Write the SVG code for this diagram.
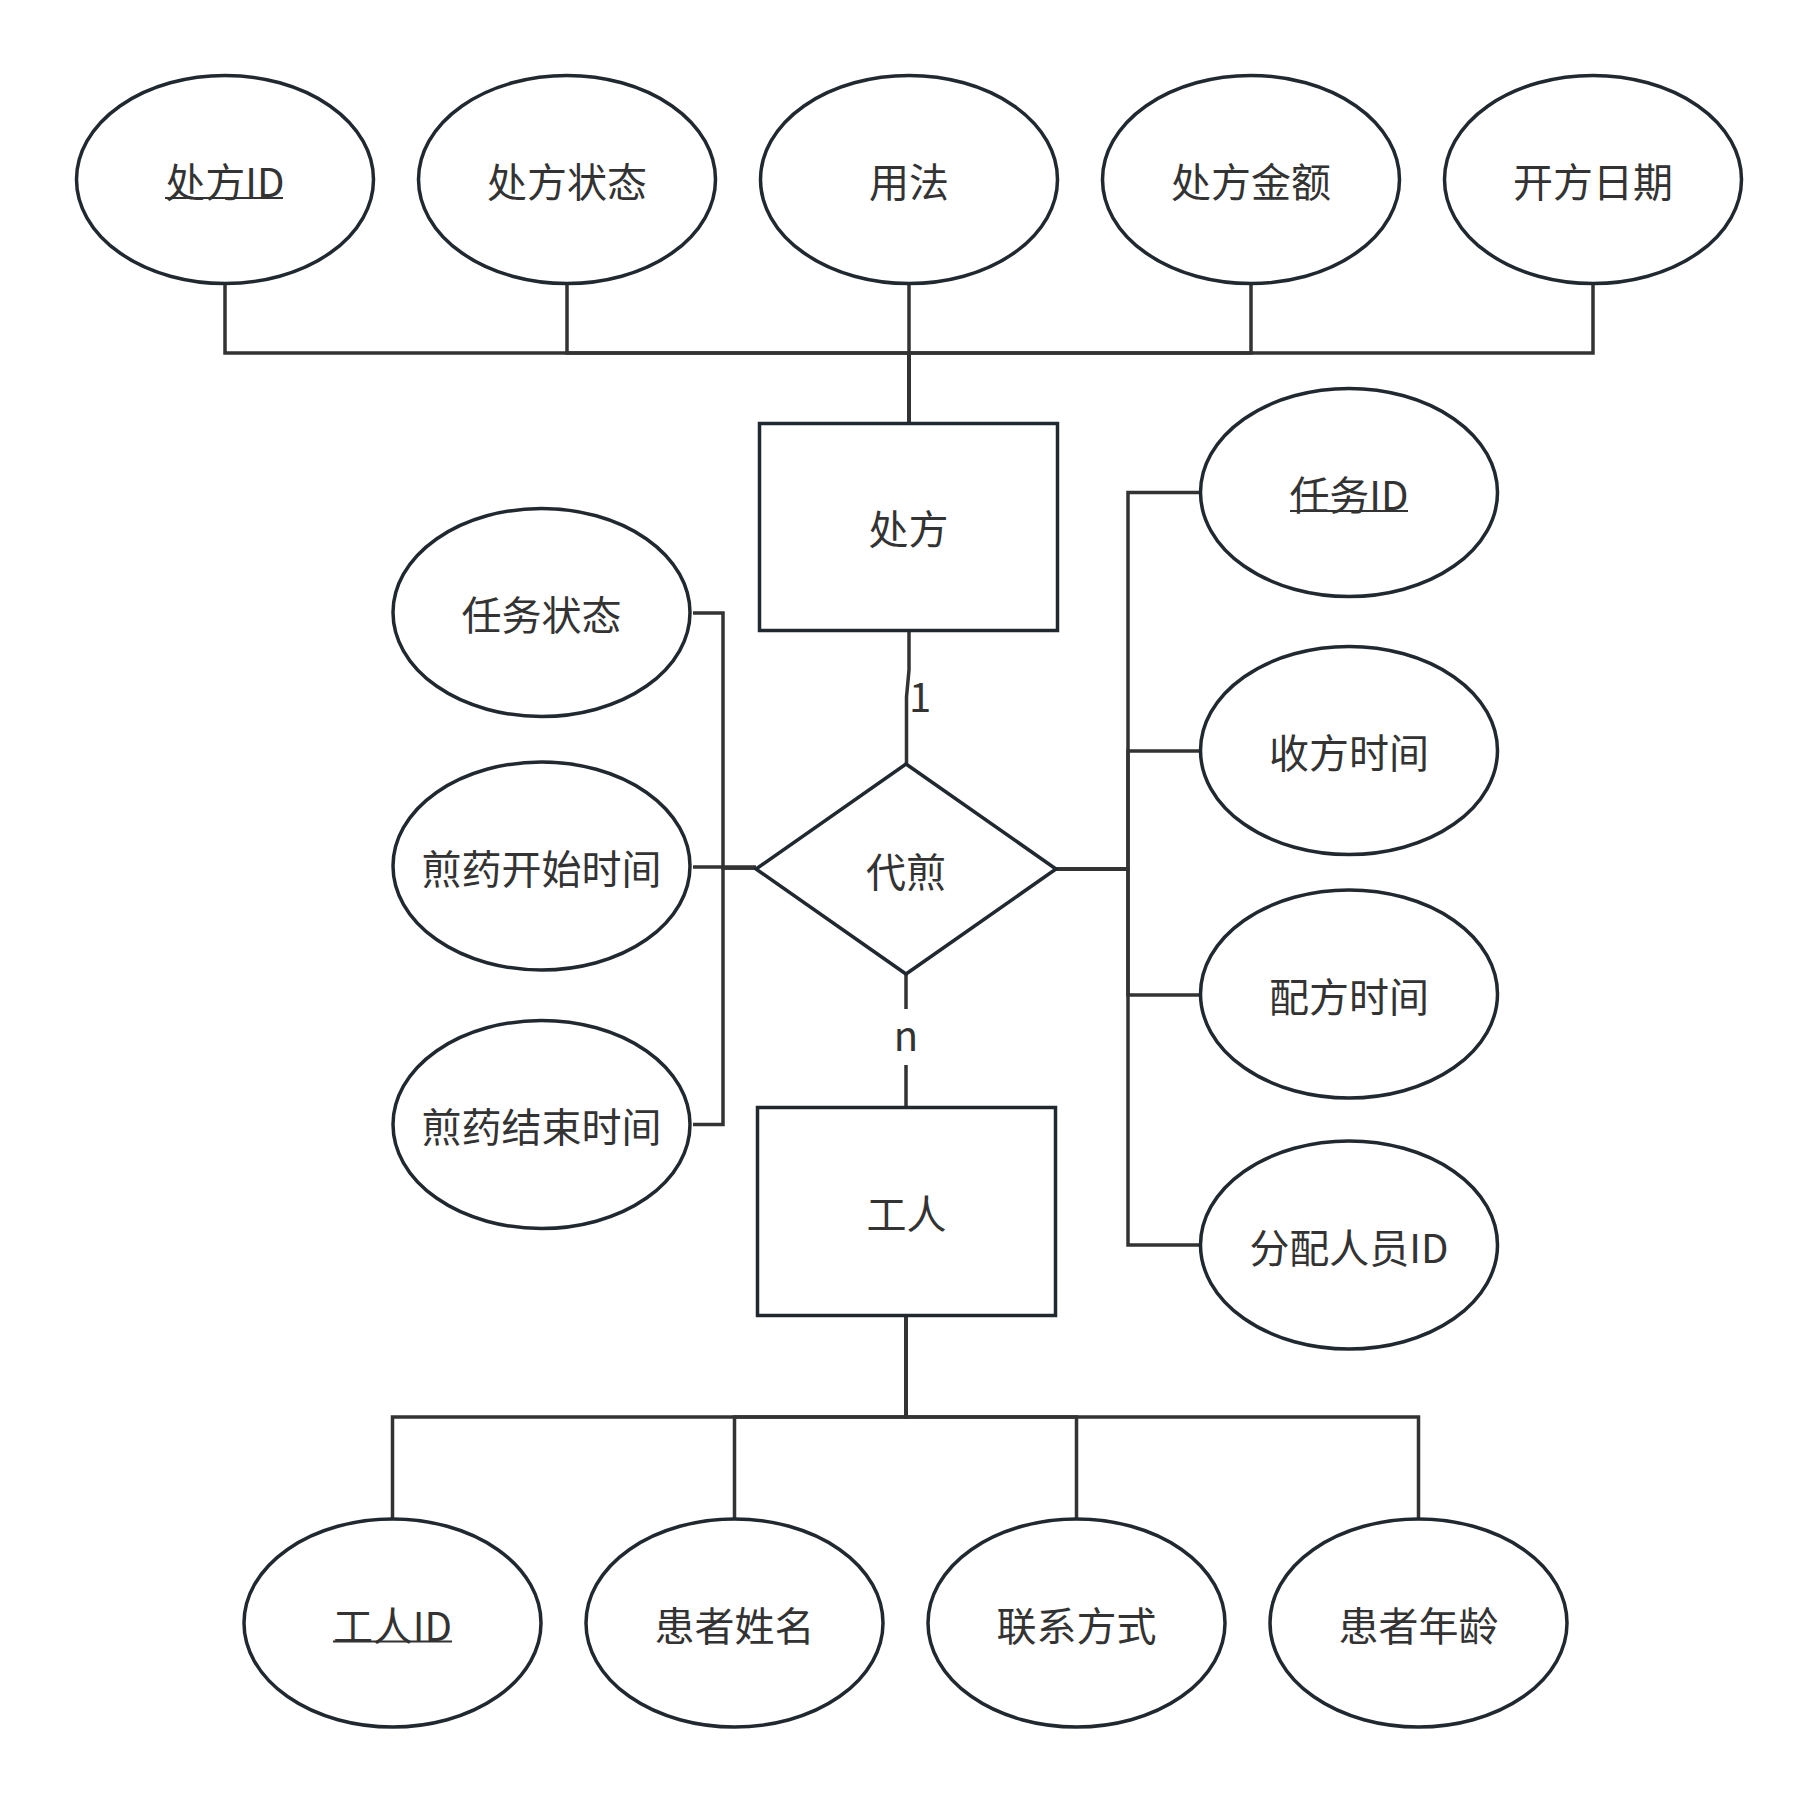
<svg xmlns="http://www.w3.org/2000/svg" width="1818" height="1803" viewBox="0 0 1818 1803">
  <style>
    .shape { fill: #ffffff; stroke: #212930; stroke-width: 3.5; }
    .link { fill: none; stroke: #333333; stroke-width: 3.5; }
    .label { font-family: "Noto Sans CJK SC", "Noto Sans", sans-serif; font-size: 40px; fill: #333333; text-anchor: middle; }
    .key { stroke: #333333; stroke-width: 2; }
  </style>
  <rect width="1818" height="1803" fill="#ffffff"/>

  <!-- connectors -->
  <g id="connectors">
    <!-- prescription attributes -->
    <path class="link" d="M909 423 V353 H225 V283.5"/>
    <path class="link" d="M909 423 V353 H567 V283.5"/>
    <path class="link" d="M909 423 V283.5"/>
    <path class="link" d="M909 423 V353 H1251 V283.5"/>
    <path class="link" d="M909 423 V353 H1593 V283.5"/>
    <!-- prescription to relationship (cardinality 1) -->
    <path class="link" d="M909 631 V670 L906.5 697 V764"/>
    <!-- relationship to worker (cardinality n) -->
    <path class="link" d="M906 974 V1009 M906 1065 V1108"/>
    <!-- relationship attributes, left side -->
    <path class="link" d="M693 613 H723 V868 H756"/>
    <path class="link" d="M693 867 H756"/>
    <path class="link" d="M693 1124.5 H723 V868 H756"/>
    <!-- relationship attributes, right side -->
    <path class="link" d="M1056 869 H1128 V492.5 H1200"/>
    <path class="link" d="M1056 869 H1128 V751 H1200"/>
    <path class="link" d="M1056 869 H1128 V995 H1200"/>
    <path class="link" d="M1056 869 H1128 V1245 H1200"/>
    <!-- worker attributes -->
    <path class="link" d="M906 1315 V1417 H392.5 V1519"/>
    <path class="link" d="M906 1315 V1417 H734.5 V1519"/>
    <path class="link" d="M906 1315 V1417 H1076.5 V1519"/>
    <path class="link" d="M906 1315 V1417 H1418.5 V1519"/>
    <text class="label" x="920" y="712">1</text>
    <text class="label" x="906" y="1051">n</text>
  </g>

  <!-- entity: prescription -->
  <g id="entity-prescription">
    <rect class="shape" x="759.5" y="423.5" width="298" height="207"/>
    <text class="label" x="908.5" y="544">处方</text>
  </g>

  <!-- relationship -->
  <g id="relation-decoct">
    <polygon class="shape" points="906,764 1056,869 906,974 756,869"/>
    <text class="label" x="906" y="886.5">代煎</text>
  </g>

  <!-- entity: worker -->
  <g id="entity-worker">
    <rect class="shape" x="757.5" y="1107.5" width="298" height="208"/>
    <text class="label" x="906.5" y="1229">工人</text>
  </g>

  <!-- prescription attributes -->
  <g id="attr-prescription-id">
    <ellipse class="shape" cx="225" cy="179.5" rx="148.5" ry="104"/>
    <text class="label" x="225" y="197">处方ID</text>
    <line class="key" x1="165" y1="198" x2="283" y2="198"/>
  </g>
  <g id="attr-prescription-status">
    <ellipse class="shape" cx="567" cy="179.5" rx="148.5" ry="104"/>
    <text class="label" x="567" y="197">处方状态</text>
  </g>
  <g id="attr-usage">
    <ellipse class="shape" cx="909" cy="179.5" rx="148.5" ry="104"/>
    <text class="label" x="909" y="197">用法</text>
  </g>
  <g id="attr-amount">
    <ellipse class="shape" cx="1251" cy="179.5" rx="148.5" ry="104"/>
    <text class="label" x="1251" y="197">处方金额</text>
  </g>
  <g id="attr-issue-date">
    <ellipse class="shape" cx="1593" cy="179.5" rx="148.5" ry="104"/>
    <text class="label" x="1593" y="197">开方日期</text>
  </g>

  <!-- relationship attributes, left -->
  <g id="attr-task-status">
    <ellipse class="shape" cx="541.5" cy="612.5" rx="148.5" ry="104"/>
    <text class="label" x="541.5" y="630">任务状态</text>
  </g>
  <g id="attr-start-time">
    <ellipse class="shape" cx="541.5" cy="866" rx="148.5" ry="104"/>
    <text class="label" x="541.5" y="883.5">煎药开始时间</text>
  </g>
  <g id="attr-end-time">
    <ellipse class="shape" cx="541.5" cy="1124.5" rx="148.5" ry="104"/>
    <text class="label" x="541.5" y="1142">煎药结束时间</text>
  </g>

  <!-- relationship attributes, right -->
  <g id="attr-task-id">
    <ellipse class="shape" cx="1349" cy="492.5" rx="148.5" ry="104"/>
    <text class="label" x="1349" y="510">任务ID</text>
    <line class="key" x1="1290" y1="511" x2="1408" y2="511"/>
  </g>
  <g id="attr-receive-time">
    <ellipse class="shape" cx="1349" cy="750.5" rx="148.5" ry="104"/>
    <text class="label" x="1349" y="768">收方时间</text>
  </g>
  <g id="attr-dispense-time">
    <ellipse class="shape" cx="1349" cy="994" rx="148.5" ry="104"/>
    <text class="label" x="1349" y="1011.5">配方时间</text>
  </g>
  <g id="attr-assignee-id">
    <ellipse class="shape" cx="1349" cy="1245" rx="148.5" ry="104"/>
    <text class="label" x="1349" y="1262.5">分配人员ID</text>
  </g>

  <!-- worker attributes -->
  <g id="attr-worker-id">
    <ellipse class="shape" cx="392.5" cy="1623" rx="148.5" ry="104"/>
    <text class="label" x="392.5" y="1640.5">工人ID</text>
    <line class="key" x1="333" y1="1641.5" x2="452" y2="1641.5"/>
  </g>
  <g id="attr-patient-name">
    <ellipse class="shape" cx="734.5" cy="1623" rx="148.5" ry="104"/>
    <text class="label" x="734.5" y="1640.5">患者姓名</text>
  </g>
  <g id="attr-contact">
    <ellipse class="shape" cx="1076.5" cy="1623" rx="148.5" ry="104"/>
    <text class="label" x="1076.5" y="1640.5">联系方式</text>
  </g>
  <g id="attr-patient-age">
    <ellipse class="shape" cx="1418.5" cy="1623" rx="148.5" ry="104"/>
    <text class="label" x="1418.5" y="1640.5">患者年龄</text>
  </g>
</svg>
